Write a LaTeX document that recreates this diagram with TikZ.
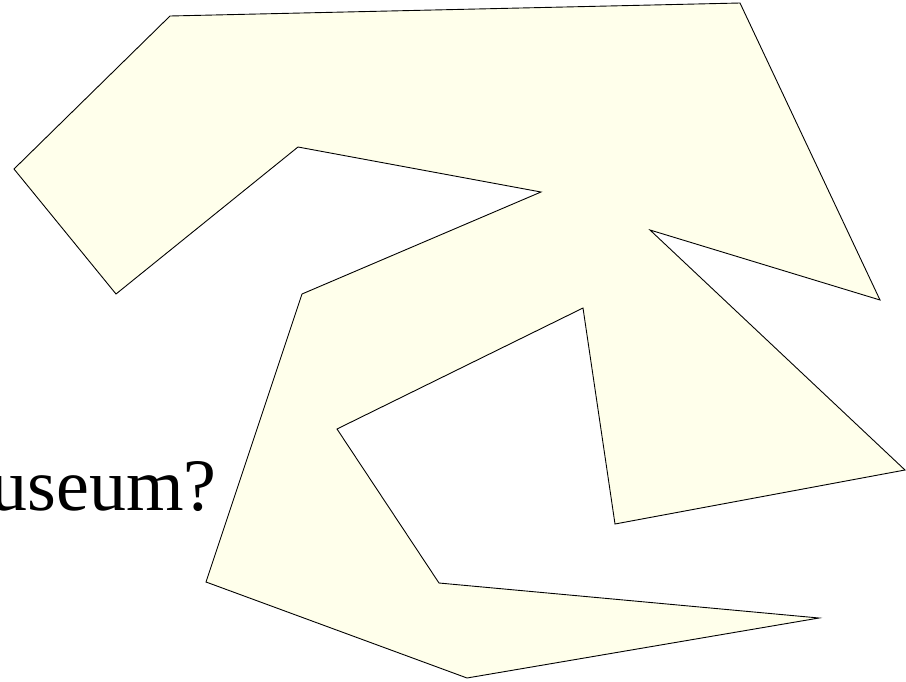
\documentclass[tikz,border=0pt]{standalone}
\usepackage{fontspec}
\setmainfont{Liberation Serif}
\definecolor{shapefill}{RGB}{255,255,235}
\tikzset{
  region/.style={draw=black, line width=0.9pt, fill=shapefill, line join=miter},
  bigtext/.style={inner sep=0pt, font=\fontsize{74}{80}\selectfont}
}
\begin{document}
\begin{tikzpicture}[x=1pt,y=-1pt]
\useasboundingbox (0,0) rectangle (906,681);
\node[bigtext, anchor=base east] (q) at (217,510) {useum?};
\draw[region] (170,16) -- (740,3) -- (880,300) -- (650,230) -- (905,470)
  -- (615,524) -- (583,308) -- (337,429) -- (439,583) -- (819,618)
  -- (467,678) -- (206,582) -- (302,294) -- (541,192) -- (298,147)
  -- (116,294) -- (14,169) -- cycle;
\end{tikzpicture}
\end{document}
